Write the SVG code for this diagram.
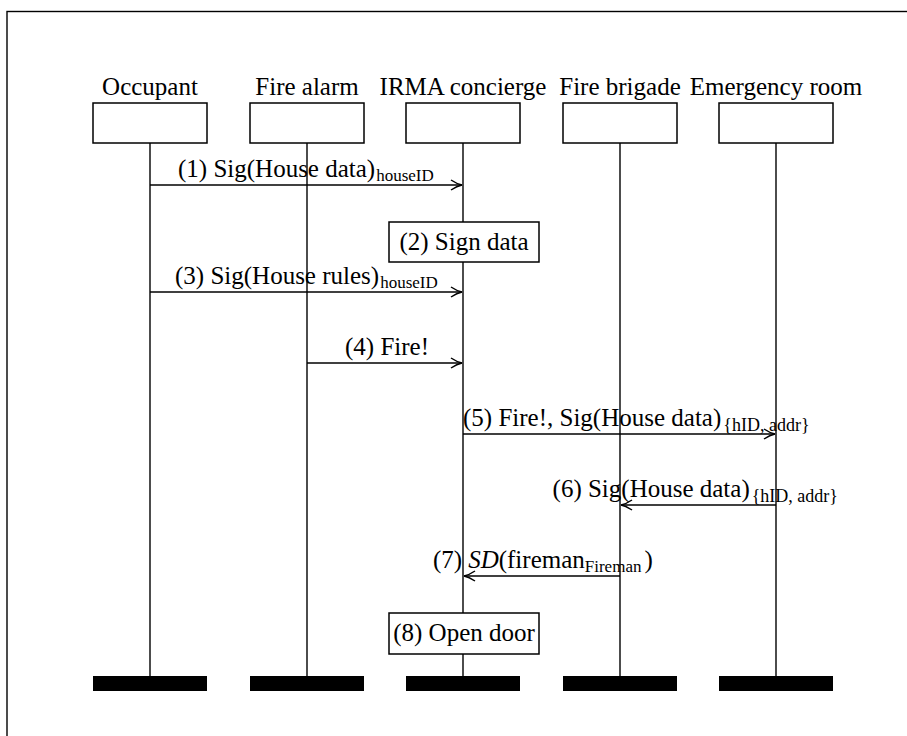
<svg xmlns="http://www.w3.org/2000/svg" width="907" height="736" viewBox="0 0 907 736">
  <style>
    text { font-family: "Liberation Serif", "DejaVu Serif", serif; fill: #000; }
    .head { font-size: 25px; text-anchor: middle; }
    .msg { font-size: 25px; }
    .sub { font-size: 17px; }
    .set { font-size: 18px; }
    .box { fill: #fff; stroke: #000; stroke-width: 1.5; }
    .life { stroke: #000; stroke-width: 1.4; fill: none; }
    .bar { fill: #000; }
    .arrow { stroke: #000; stroke-width: 1.3; fill: none; marker-end: url(#head); }
  </style>
  <defs>
    <marker id="head" viewBox="-13 -7 15 14" refX="0" refY="0" markerWidth="15" markerHeight="14" markerUnits="userSpaceOnUse" orient="auto">
      <path d="M-11,-5 Q-5,-1 0,0 Q-5,1 -11,5" fill="none" stroke="#000" stroke-width="1.5"/>
    </marker>
  </defs>

  <rect x="0" y="0" width="907" height="736" fill="#fff"/>
  <!-- outer frame, open to the right and bottom edges -->
  <rect x="7" y="11.5" width="920" height="740" fill="none" stroke="#000" stroke-width="1.4"/>

  <!-- lifelines -->
  <g id="lifelines">
    <line class="life" x1="150" y1="143" x2="150" y2="676"/>
    <line class="life" x1="307" y1="143" x2="307" y2="676"/>
    <line class="life" x1="463" y1="143" x2="463" y2="676"/>
    <line class="life" x1="620" y1="143" x2="620" y2="676"/>
    <line class="life" x1="776" y1="143" x2="776" y2="676"/>
  </g>

  <g id="occupant">
    <text class="head" x="150" y="95">Occupant</text>
    <rect class="box" x="93" y="103" width="114" height="40"/>
    <rect class="bar" x="93" y="676" width="114" height="15"/>
  </g>
  <g id="fire-alarm">
    <text class="head" x="307" y="95">Fire alarm</text>
    <rect class="box" x="250" y="103" width="114" height="40"/>
    <rect class="bar" x="250" y="676" width="114" height="15"/>
  </g>
  <g id="irma-concierge">
    <text class="head" x="463" y="95">IRMA concierge</text>
    <rect class="box" x="406" y="103" width="114" height="40"/>
    <rect class="bar" x="406" y="676" width="114" height="15"/>
  </g>
  <g id="fire-brigade">
    <text class="head" x="620" y="95">Fire brigade</text>
    <rect class="box" x="563" y="103" width="114" height="40"/>
    <rect class="bar" x="563" y="676" width="114" height="15"/>
  </g>
  <g id="emergency-room">
    <text class="head" x="776" y="95">Emergency room</text>
    <rect class="box" x="719" y="103" width="114" height="40"/>
    <rect class="bar" x="719" y="676" width="114" height="15"/>
  </g>

  <!-- actions on the concierge lifeline -->
  <g id="sign-data">
    <rect class="box" x="389" y="222" width="150" height="40"/>
    <text class="msg" x="464" y="250" text-anchor="middle">(2) Sign data</text>
  </g>
  <g id="open-door">
    <rect class="box" x="389" y="613" width="150" height="41"/>
    <text class="msg" x="464" y="641" text-anchor="middle">(8) Open door</text>
  </g>

  <!-- messages -->
  <g id="connectors">
    <line class="arrow" x1="150" y1="185" x2="462" y2="185"/>
    <line class="arrow" x1="150" y1="292" x2="462" y2="292"/>
    <line class="arrow" x1="307" y1="363" x2="462" y2="363"/>
    <line class="arrow" x1="463" y1="434" x2="775" y2="434"/>
    <line class="arrow" x1="776" y1="505" x2="621" y2="505"/>
    <line class="arrow" x1="620" y1="576" x2="464" y2="576"/>
  </g>

  <g id="labels">
    <text class="msg" x="178" y="177">(1) Sig(House data)<tspan class="sub" dx="1" dy="4">houseID</tspan></text>
    <text class="msg" x="175" y="284">(3) Sig(House rules)<tspan class="sub" dx="1" dy="4">houseID</tspan></text>
    <text class="msg" x="345" y="355">(4) Fire!</text>
    <text class="msg" x="463" y="426">(5) Fire!, Sig(House data)<tspan class="set" dx="2" dy="5">{hID, addr}</tspan></text>
    <text class="msg" x="838" y="497" text-anchor="end">(6) Sig(House data)<tspan class="set" dx="2" dy="5">{hID, addr}</tspan></text>
    <text class="msg" x="433" y="568">(7)<tspan dx="6" font-style="italic">SD</tspan>(fireman<tspan class="sub" dy="4">Fireman</tspan><tspan dx="3" dy="-4">)</tspan></text>
  </g>
</svg>
